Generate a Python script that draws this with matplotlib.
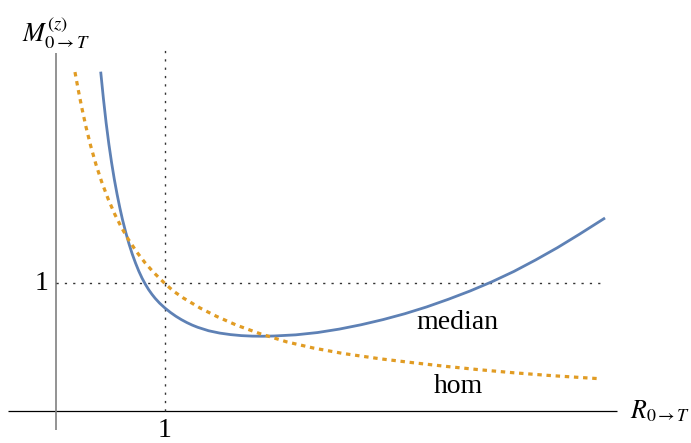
import matplotlib
matplotlib.use("Agg")
import matplotlib.pyplot as plt

plt.rcParams["mathtext.fontset"] = "stix"
plt.rcParams["lines.scale_dashes"] = False

# Sampled values of the two curves (R, M)
median_r = [0.410, 0.435, 0.460, 0.485, 0.510, 0.535, 0.560, 0.585, 0.610,
            0.640, 0.670, 0.700, 0.730, 0.760, 0.790, 0.820, 0.850, 0.880,
            0.910, 0.950, 1.000, 1.050, 1.100, 1.150, 1.200, 1.250, 1.300,
            1.400, 1.500, 1.600, 1.700, 1.800, 1.900, 2.000, 2.200, 2.400,
            2.600, 2.800, 3.000, 3.200, 3.400, 3.600, 3.800, 4.000, 4.200,
            4.400, 4.600, 4.800, 5.037]
median_m = [2.651, 2.440, 2.250, 2.085, 1.940, 1.810, 1.695, 1.590, 1.495,
            1.395, 1.305, 1.225, 1.155, 1.092, 1.037, 0.990, 0.948, 0.912,
            0.880, 0.843, 0.804, 0.770, 0.740, 0.714, 0.691, 0.671, 0.654,
            0.627, 0.609, 0.597, 0.589, 0.585, 0.584, 0.586, 0.595, 0.613,
            0.640, 0.674, 0.714, 0.760, 0.813, 0.873, 0.938, 1.010, 1.090,
            1.180, 1.276, 1.380, 1.508]

hom_r = [0.174, 0.205, 0.236, 0.275, 0.318, 0.367, 0.419, 0.480, 0.541,
         0.603, 0.663, 0.740, 0.817, 0.893, 1.000, 1.080, 1.168, 1.321,
         1.474, 1.658, 1.872, 2.117, 2.361, 2.636, 2.972, 3.278, 3.584,
         3.890, 4.195, 4.502, 4.807, 4.975]
hom_m = [2.648, 2.505, 2.372, 2.220, 2.072, 1.925, 1.790, 1.653, 1.534,
         1.430, 1.342, 1.243, 1.158, 1.085, 0.995, 0.935, 0.883, 0.805,
         0.739, 0.670, 0.604, 0.540, 0.492, 0.449, 0.408, 0.377, 0.348,
         0.322, 0.299, 0.279, 0.262, 0.253]

curve_labels = ["median", "hom"]
tick_value = 1
x_label = r"$R_{0\to T}$"
y_label = r"$M^{(z)}_{0\to T}$"

blue = "#5E81B5"
orange = "#E19C24"

fig = plt.figure(figsize=(6.91, 4.43), dpi=100)
ax = fig.add_axes([0, 0, 1, 1])
ax.set_xlim(-0.5138, 5.8257)
ax.set_ylim(-0.25, 3.211)
ax.axis("off")

# axes lines
ax.plot([-0.44, 5.145], [0, 0], color="black", lw=0.9, solid_capstyle="butt")
ax.plot([0, 0], [-0.15, 2.797], color="#808080", lw=1.2, solid_capstyle="butt")

# reference grid lines at 1
ax.plot([tick_value, tick_value], [0, 2.83], color="#333333", lw=1.0,
        dashes=(1.6, 4.4))
ax.plot([0, 4.99], [tick_value, tick_value], color="#333333", lw=1.0,
        dashes=(1.6, 4.4))

# curves
ax.plot(median_r, median_m, color=blue, lw=2.0, solid_joinstyle="round",
        solid_capstyle="butt")
ax.plot(hom_r, hom_m, color=orange, lw=2.3, dashes=(3.2, 3.4))

serif = "Liberation Serif"
ax.text(3.68, 0.695, curve_labels[0], fontsize=20, family=serif,
        ha="center", va="center")
ax.text(3.69, 0.19, curve_labels[1], fontsize=20, family=serif,
        ha="center", va="center")

ax.text(tick_value, -0.155, "1", fontsize=20, family=serif,
        ha="center", va="center")
ax.text(-0.13, tick_value, "1", fontsize=20, family=serif,
        ha="center", va="center")

ax.text(5.27, 0.0, x_label, fontsize=18.5, ha="left", va="center")
ax.text(-0.31, 2.95, y_label, fontsize=19, ha="left", va="center")

fig.savefig("out.png", dpi=100)
